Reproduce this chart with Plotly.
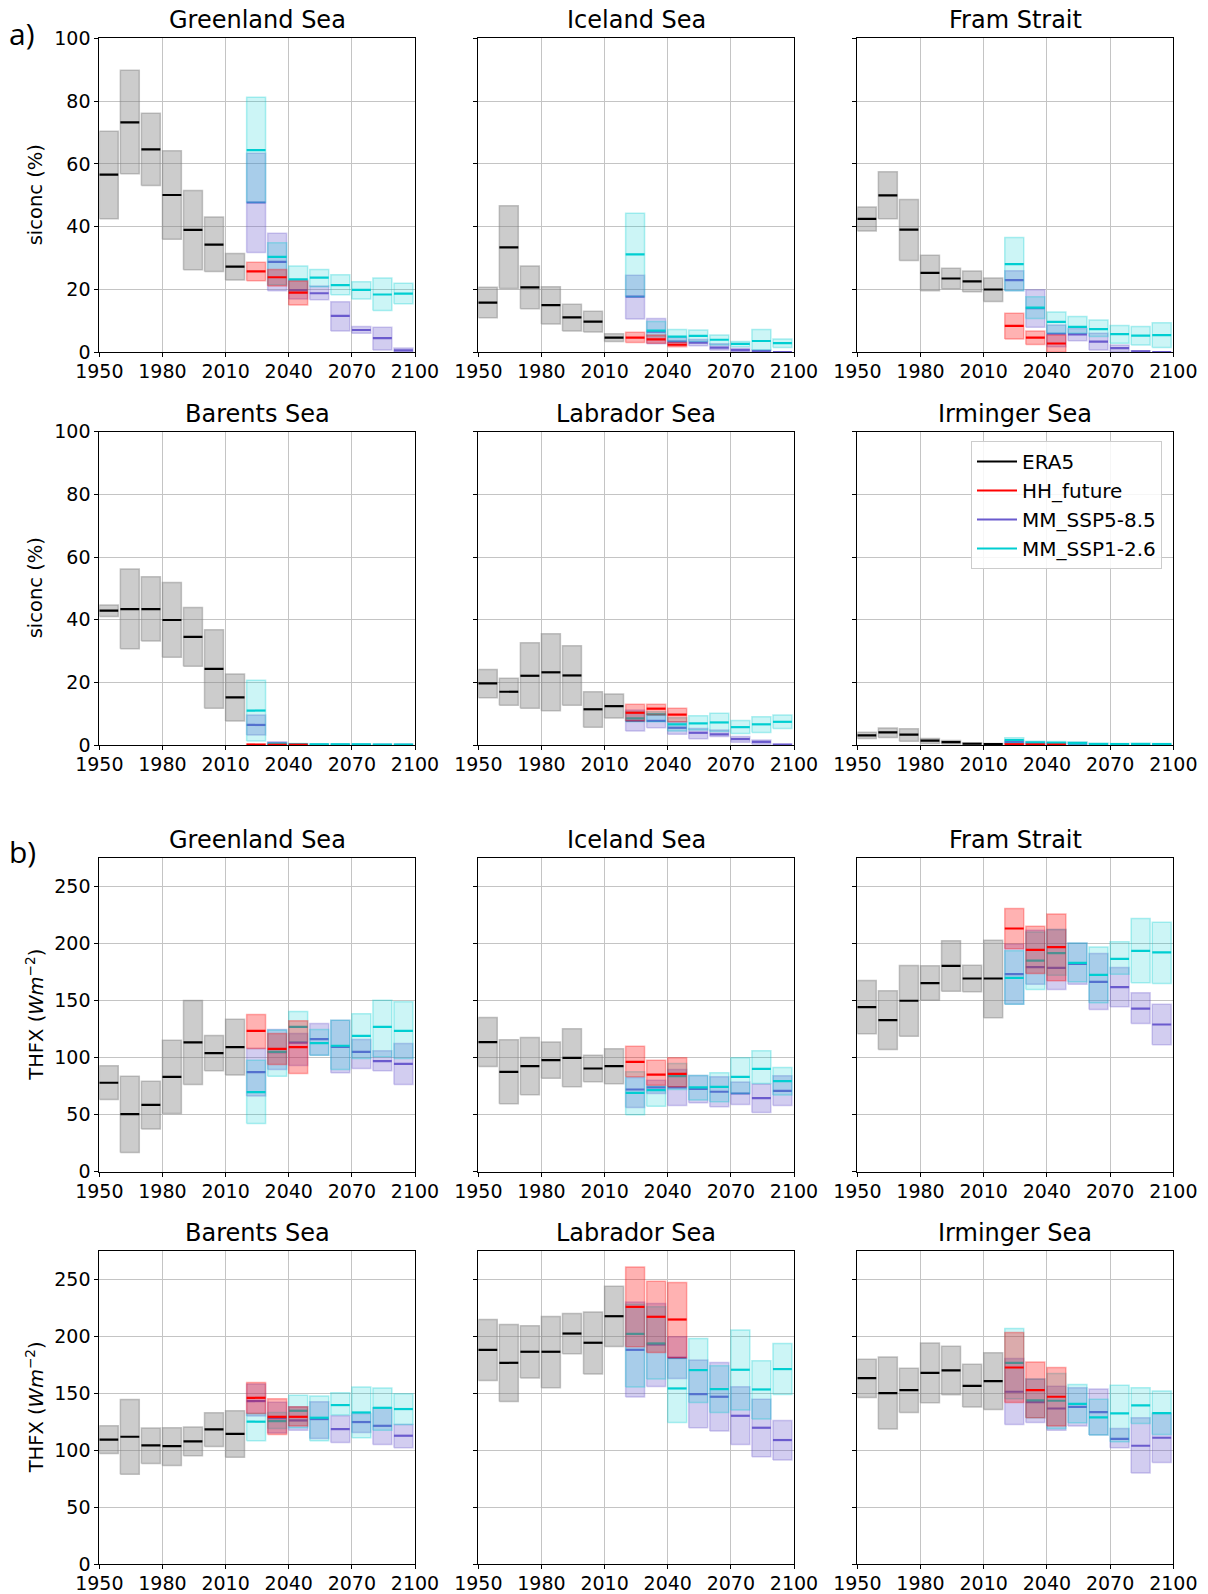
import plotly.graph_objects as go

# ---------------- decades (box start years) ----------------
ERA5_DEC = [1950, 1960, 1970, 1980, 1990, 2000, 2010]
HH_DEC = [2020, 2030, 2040]
MM_DEC = [2020, 2030, 2040, 2050, 2060, 2070, 2080, 2090]
BOX_LEN = 9

REGIONS = ["Greenland Sea", "Iceland Sea", "Fram Strait",
           "Barents Sea", "Labrador Sea", "Irminger Sea"]
X_TICKS = [1950, 1980, 2010, 2040, 2070, 2100]
SIC_TICKS = [0, 20, 40, 60, 80, 100]
THFX_TICKS = [0, 50, 100, 150, 200, 250]

# ---------------- sea-ice concentration (%) : (low, median, high) ----------------
GRE_SIC_ERA5 = ([42.5, 56.9, 53.1, 36.0, 26.3, 25.7, 23.0],
                [56.6, 73.2, 64.6, 50.1, 39.0, 34.3, 27.3],
                [70.4, 89.8, 76.1, 64.2, 51.5, 43.1, 31.5])
GRE_SIC_HH = ([22.8, 21.1, 15.1], [25.8, 23.9, 19.0], [28.7, 26.4, 22.7])
GRE_SIC_585 = ([31.8, 19.6, 17.0, 16.7, 6.8, 6.1, 0.7, 0.0],
               [47.7, 28.8, 19.8, 18.8, 11.6, 7.1, 4.5, 0.6],
               [63.4, 37.9, 23.0, 21.1, 16.1, 8.2, 8.0, 1.4])
GRE_SIC_126 = ([47.7, 21.5, 19.0, 20.9, 18.3, 17.0, 13.3, 15.5],
               [64.4, 30.4, 23.2, 23.8, 21.4, 19.9, 18.4, 18.7],
               [81.2, 34.9, 27.5, 26.4, 24.7, 22.5, 23.7, 22.0])

ICE_SIC_ERA5 = ([11.0, 20.3, 13.9, 9.0, 6.8, 6.5, 3.4],
                [15.8, 33.4, 20.7, 15.0, 11.1, 9.8, 4.7],
                [20.7, 46.7, 27.5, 20.9, 15.3, 13.1, 5.9])
ICE_SIC_HH = ([3.1, 2.9, 1.8], [4.7, 4.1, 2.4], [6.4, 5.5, 3.1])
ICE_SIC_585 = ([10.6, 2.7, 2.3, 2.1, 0.7, 0.2, 0.0, 0.0],
               [17.7, 6.6, 3.4, 3.1, 1.5, 0.7, 0.4, 0.1],
               [24.5, 10.8, 4.8, 4.1, 2.7, 1.3, 0.7, 0.2])
ICE_SIC_126 = ([17.7, 5.0, 3.4, 3.4, 2.3, 1.8, 0.7, 1.5],
               [31.2, 6.9, 5.0, 5.2, 4.0, 2.7, 3.6, 2.9],
               [44.3, 9.8, 7.3, 7.1, 5.5, 3.4, 7.3, 4.2])

FRA_SIC_ERA5 = ([38.6, 42.5, 29.2, 19.6, 20.2, 19.3, 16.2],
                [42.5, 50.0, 39.1, 25.3, 23.5, 22.6, 20.0],
                [46.3, 57.5, 48.7, 30.9, 26.8, 25.9, 23.7])
FRA_SIC_HH = ([4.2, 2.5, 0.0], [8.4, 4.7, 2.8], [12.4, 6.8, 5.5])
FRA_SIC_585 = ([19.6, 8.0, 1.8, 3.7, 0.7, 0.2, 0.0, 0.0],
               [23.0, 14.1, 5.9, 5.7, 3.4, 1.3, 0.3, 0.1],
               [26.0, 19.9, 8.7, 7.6, 6.1, 2.3, 0.5, 0.2])
FRA_SIC_126 = ([19.6, 10.8, 6.1, 6.1, 5.0, 2.9, 2.3, 1.5],
               [28.1, 14.2, 9.7, 8.1, 7.4, 5.8, 5.3, 5.5],
               [36.6, 17.7, 12.8, 11.4, 10.3, 8.5, 8.2, 9.4])

BAR_SIC_ERA5 = ([41.0, 30.7, 33.2, 28.0, 25.1, 11.7, 7.7],
                [42.9, 43.4, 43.4, 39.9, 34.5, 24.3, 15.2],
                [44.7, 56.2, 53.7, 51.9, 43.9, 36.8, 22.7])
BAR_SIC_HH = ([0.0, 0.0, 0.0], [0.1, 0.1, 0.1], [0.3, 0.2, 0.1])
BAR_SIC_585 = ([3.2, 0.0, 0.0, 0.0, 0.0, 0.0, 0.0, 0.0],
               [6.4, 0.5, 0.1, 0.05, 0.05, 0.05, 0.05, 0.05],
               [9.6, 1.0, 0.3, 0.1, 0.1, 0.1, 0.1, 0.1])
BAR_SIC_126 = ([1.3, 0.0, 0.0, 0.0, 0.0, 0.0, 0.0, 0.0],
               [11.0, 0.3, 0.2, 0.2, 0.2, 0.2, 0.1, 0.1],
               [20.7, 0.7, 0.5, 0.4, 0.4, 0.3, 0.3, 0.3])

LAB_SIC_ERA5 = ([15.1, 12.7, 11.7, 10.9, 12.7, 5.7, 8.6],
                [19.7, 17.0, 22.1, 23.2, 22.2, 11.4, 12.4],
                [24.1, 21.3, 32.6, 35.5, 31.7, 17.0, 16.3])
LAB_SIC_HH = ([7.7, 9.6, 7.4], [10.3, 11.6, 9.7], [13.0, 13.0, 11.7])
LAB_SIC_585 = ([4.5, 5.5, 3.4, 2.0, 2.7, 0.9, 0.2, 0.0],
               [7.7, 7.7, 5.5, 3.9, 3.4, 1.9, 1.0, 0.1],
               [11.2, 9.6, 7.4, 5.3, 4.8, 2.7, 1.6, 0.3])
LAB_SIC_126 = ([7.4, 7.4, 4.5, 4.8, 4.3, 3.7, 4.0, 5.3],
               [8.5, 9.8, 6.6, 6.9, 7.2, 5.7, 6.6, 7.4],
               [10.6, 10.6, 8.7, 9.3, 10.1, 7.8, 9.0, 9.6])

IRM_SIC_ERA5 = ([2.1, 2.4, 1.2, 0.5, 0.3, 0.1, 0.1],
                [3.1, 4.0, 3.3, 1.4, 0.9, 0.4, 0.3],
                [4.1, 5.4, 5.2, 2.1, 1.4, 0.7, 0.5])
IRM_SIC_HH = ([0.0, 0.0, 0.0], [0.2, 0.1, 0.1], [0.4, 0.3, 0.2])
IRM_SIC_585 = ([0.3, 0.2, 0.1, 0.1, 0.0, 0.0, 0.0, 0.0],
               [0.9, 0.5, 0.4, 0.4, 0.2, 0.1, 0.1, 0.1],
               [1.4, 1.0, 0.8, 0.8, 0.4, 0.2, 0.2, 0.2])
IRM_SIC_126 = ([0.7, 0.3, 0.3, 0.2, 0.1, 0.1, 0.1, 0.1],
               [1.6, 0.8, 0.7, 0.6, 0.3, 0.3, 0.3, 0.3],
               [2.3, 1.2, 1.1, 1.0, 0.6, 0.5, 0.6, 0.5])

# ---------------- turbulent heat flux (W m-2) : (low, median, high) ----------------
GRE_THF_ERA5 = ([63.3, 16.9, 37.3, 51.0, 76.4, 88.4, 84.6],
                [77.9, 50.5, 58.6, 83.1, 113.2, 103.9, 109.1],
                [92.8, 83.7, 79.3, 115.2, 149.9, 119.3, 133.6])
GRE_THF_HH = ([107.9, 93.9, 86.1], [123.4, 107.6, 109.1], [137.7, 121.1, 132.1])
GRE_THF_585 = ([66.2, 89.6, 93.0, 102.0, 86.6, 90.4, 88.4, 76.4],
               [87.2, 104.7, 113.0, 116.1, 109.4, 105.0, 96.8, 94.5],
               [107.9, 124.6, 121.0, 129.8, 132.7, 115.8, 105.9, 112.3])
GRE_THF_126 = ([42.3, 83.7, 113.8, 102.0, 89.6, 99.2, 100.6, 99.2],
               [69.7, 105.0, 126.9, 112.6, 110.3, 119.0, 126.9, 123.4],
               [97.7, 124.0, 140.3, 124.6, 132.7, 138.3, 150.2, 148.8])

ICE_THF_ERA5 = ([92.2, 59.5, 67.3, 81.9, 74.3, 78.7, 77.0],
                [113.4, 87.5, 92.4, 97.7, 99.7, 90.4, 92.4],
                [135.0, 115.5, 117.5, 113.7, 125.1, 102.0, 107.6])
ICE_THF_HH = ([83.1, 75.8, 74.3], [96.2, 85.1, 85.7], [109.9, 97.7, 99.7])
ICE_THF_585 = ([56.3, 68.5, 58.0, 60.4, 56.9, 58.9, 51.9, 58.0],
               [72.0, 73.8, 73.8, 72.6, 70.0, 68.5, 64.4, 70.8],
               [82.5, 80.2, 89.5, 84.3, 83.1, 78.5, 76.7, 84.0])
ICE_THF_126 = ([49.9, 57.4, 72.0, 62.7, 61.2, 68.5, 77.3, 67.1],
               [69.1, 71.4, 83.7, 73.8, 74.3, 83.1, 90.1, 79.3],
               [87.5, 74.9, 94.8, 84.3, 86.6, 99.7, 105.9, 91.3])

FRA_THF_ERA5 = ([120.8, 107.1, 118.7, 150.2, 158.1, 157.5, 134.8],
                [144.1, 132.7, 149.7, 165.1, 180.3, 169.2, 169.2],
                [167.4, 158.4, 180.6, 180.3, 202.2, 180.9, 202.7])
FRA_THF_HH = ([195.2, 173.6, 167.2], [213.0, 194.3, 196.6], [230.5, 215.0, 225.8])
FRA_THF_585 = ([146.7, 164.2, 159.6, 164.2, 142.1, 144.4, 129.8, 111.1],
               [173.0, 179.1, 178.5, 182.0, 166.3, 161.6, 142.9, 128.9],
               [199.2, 211.5, 212.1, 200.4, 191.1, 178.8, 156.7, 146.7])
FRA_THF_126 = ([146.7, 159.6, 172.1, 166.3, 147.9, 173.0, 165.4, 164.8],
               [169.8, 184.9, 191.4, 182.9, 172.4, 186.4, 193.4, 192.0],
               [193.4, 210.0, 212.1, 200.4, 196.9, 201.3, 221.7, 218.5])

BAR_THF_ERA5 = ([97.1, 78.7, 88.3, 86.5, 95.0, 103.2, 93.6],
                [109.1, 111.7, 104.1, 103.5, 107.6, 118.1, 114.3],
                [121.3, 144.4, 119.3, 119.6, 120.2, 132.7, 134.5])
BAR_THF_HH = ([132.2, 113.7, 121.1], [145.9, 129.2, 129.2], [159.4, 145.0, 138.0])
BAR_THF_585 = ([130.0, 115.0, 117.5, 110.2, 106.7, 115.5, 105.0, 102.0],
               [143.0, 128.0, 126.0, 127.2, 118.4, 124.6, 121.3, 112.6],
               [158.0, 142.0, 138.0, 142.4, 130.1, 132.2, 137.1, 122.5])
BAR_THF_126 = ([108.2, 119.0, 119.6, 108.2, 130.7, 110.8, 117.5, 122.5],
               [124.9, 125.4, 134.5, 128.4, 139.5, 133.0, 137.1, 136.0],
               [132.2, 133.0, 148.2, 147.4, 150.3, 155.3, 154.4, 149.4])

LAB_THF_ERA5 = ([161.1, 142.7, 163.2, 154.7, 184.5, 166.7, 190.9],
                [188.0, 176.6, 186.3, 186.3, 202.3, 194.2, 217.5],
                [214.6, 210.2, 209.1, 217.3, 219.9, 221.3, 243.9])
LAB_THF_HH = ([190.6, 185.7, 181.0], [225.7, 217.0, 214.6], [260.8, 248.2, 247.1])
LAB_THF_585 = ([146.5, 155.8, 162.9, 119.6, 116.7, 105.0, 94.2, 91.2],
               [188.0, 192.7, 181.0, 149.1, 146.8, 130.1, 119.6, 108.8],
               [230.0, 228.7, 199.4, 179.0, 176.9, 155.6, 144.7, 126.0])
LAB_THF_126 = ([155.3, 162.3, 124.3, 141.8, 133.0, 135.1, 127.2, 148.8],
               [202.0, 193.6, 154.1, 170.2, 153.5, 170.5, 153.2, 171.1],
               [228.0, 225.7, 180.4, 198.0, 174.0, 205.3, 178.4, 193.6])

IRM_THF_ERA5 = ([146.2, 118.4, 133.0, 141.5, 148.5, 137.7, 135.7],
                [163.2, 150.0, 152.6, 167.8, 169.9, 156.4, 160.5],
                [179.8, 181.6, 171.9, 193.9, 191.2, 175.4, 185.4])
IRM_THF_HH = ([141.8, 128.4, 121.1], [172.5, 152.6, 146.8], [203.2, 177.2, 172.5])
IRM_THF_585 = ([122.5, 124.3, 117.5, 121.1, 113.2, 102.0, 79.8, 89.2],
               [151.2, 142.0, 136.5, 138.0, 133.3, 109.9, 103.8, 110.8],
               [180.4, 162.3, 156.1, 154.7, 153.5, 119.0, 128.4, 132.2])
IRM_THF_126 = ([145.0, 128.4, 119.0, 124.0, 113.2, 107.3, 123.4, 113.7],
               [176.6, 143.6, 143.3, 140.6, 128.7, 132.2, 139.2, 132.5],
               [206.7, 162.3, 167.3, 157.6, 144.7, 157.0, 154.7, 151.8])

# panel order: row by row (siconc rows 1-2, THFX rows 3-4)
PANELS = [
    (GRE_SIC_ERA5, GRE_SIC_HH, GRE_SIC_585, GRE_SIC_126),
    (ICE_SIC_ERA5, ICE_SIC_HH, ICE_SIC_585, ICE_SIC_126),
    (FRA_SIC_ERA5, FRA_SIC_HH, FRA_SIC_585, FRA_SIC_126),
    (BAR_SIC_ERA5, BAR_SIC_HH, BAR_SIC_585, BAR_SIC_126),
    (LAB_SIC_ERA5, LAB_SIC_HH, LAB_SIC_585, LAB_SIC_126),
    (IRM_SIC_ERA5, IRM_SIC_HH, IRM_SIC_585, IRM_SIC_126),
    (GRE_THF_ERA5, GRE_THF_HH, GRE_THF_585, GRE_THF_126),
    (ICE_THF_ERA5, ICE_THF_HH, ICE_THF_585, ICE_THF_126),
    (FRA_THF_ERA5, FRA_THF_HH, FRA_THF_585, FRA_THF_126),
    (BAR_THF_ERA5, BAR_THF_HH, BAR_THF_585, BAR_THF_126),
    (LAB_THF_ERA5, LAB_THF_HH, LAB_THF_585, LAB_THF_126),
    (IRM_THF_ERA5, IRM_THF_HH, IRM_THF_585, IRM_THF_126),
]

# ---------------- styling ----------------
W, H = 1208, 1594
FONT = "DejaVu Sans"
COL_PX = [(99.3, 415.0), (478.3, 794.0), (857.3, 1173.3)]
ROW_PX = [(38.3, 352.3), (431.7, 745.0), (857.7, 1171.7), (1250.7, 1564.0)]

# drawing order: ERA5, SSP5-8.5, SSP1-2.6, HH_future
STYLE = {
    "ERA5": dict(fill="rgba(128,128,128,0.4)", edge="rgba(128,128,128,0.45)", line="#000000", rank=1),
    "HH_future": dict(fill="rgba(255,0,0,0.3)", edge="rgba(255,0,0,0.3)", line="#ff0000", rank=2),
    "MM_SSP5-8.5": dict(fill="rgba(106,90,205,0.3)", edge="rgba(106,90,205,0.3)", line="#6a5acd", rank=3),
    "MM_SSP1-2.6": dict(fill="rgba(0,206,209,0.2)", edge="rgba(0,206,209,0.3)", line="#00ced1", rank=4),
}

fig = go.Figure()


def add_series(name, decades, data, xa, ya):
    lo, med, hi = data
    st = STYLE[name]
    bx, by, mx, my = [], [], [], []
    for d, l, m, h in zip(decades, lo, med, hi):
        bx += [d, d + BOX_LEN, d + BOX_LEN, d, d, None]
        by += [l, l, h, h, l, None]
        mx += [d, d + BOX_LEN, None]
        my += [m, m, None]
    fig.add_trace(go.Scatter(x=bx, y=by, mode="lines", fill="toself",
                             fillcolor=st["fill"], line=dict(color=st["edge"], width=1.5),
                             xaxis=xa, yaxis=ya, showlegend=False, hoverinfo="skip"))
    fig.add_trace(go.Scatter(x=mx, y=my, mode="lines",
                             line=dict(color=st["line"], width=2.2),
                             xaxis=xa, yaxis=ya, showlegend=False, hoverinfo="skip"))


layout_axes = {}
annotations = []
for i, (era5, hh, s585, s126) in enumerate(PANELS):
    r, c = divmod(i, 3)
    xa = "x" if i == 0 else f"x{i+1}"
    ya = "y" if i == 0 else f"y{i+1}"
    add_series("ERA5", ERA5_DEC, era5, xa, ya)
    add_series("MM_SSP5-8.5", MM_DEC, s585, xa, ya)
    add_series("MM_SSP1-2.6", MM_DEC, s126, xa, ya)
    add_series("HH_future", HH_DEC, hh, xa, ya)

    x0, x1 = COL_PX[c]
    y0, y1 = ROW_PX[r]
    xdom = [x0 / W, x1 / W]
    ydom = [1 - y1 / H, 1 - y0 / H]
    is_sic = r < 2
    common = dict(showline=True, linecolor="#000000", linewidth=1, mirror=True,
                  ticks="outside", ticklen=4, tickwidth=1, tickcolor="#000000",
                  showgrid=True, gridcolor="#c4c4c4", gridwidth=1, zeroline=False,
                  automargin=False,
                  tickfont=dict(family=FONT, size=19, color="#000000"))
    layout_axes["xaxis" if i == 0 else f"xaxis{i+1}"] = dict(
        domain=xdom, anchor=ya, range=[1950, 2100], tickmode="array",
        tickvals=X_TICKS, ticklabelstandoff=-2, **common)
    layout_axes["yaxis" if i == 0 else f"yaxis{i+1}"] = dict(
        domain=ydom, anchor=xa, range=[0, 100] if is_sic else [0, 275],
        tickmode="array", tickvals=SIC_TICKS if is_sic else THFX_TICKS,
        showticklabels=(c == 0), **common)

    annotations.append(dict(text=REGIONS[i % 6], x=(xdom[0] + xdom[1]) / 2, y=ydom[1],
                            xref="paper", yref="paper", xanchor="center", yanchor="bottom",
                            yshift=2, showarrow=False,
                            font=dict(family=FONT, size=24, color="#000000")))
    if c == 0:
        ytxt = "siconc (%)" if is_sic else "THFX (<i>Wm</i><sup>−2</sup>)"
        annotations.append(dict(text=ytxt, x=35 / W, y=(ydom[0] + ydom[1]) / 2,
                                xref="paper", yref="paper", xanchor="center", yanchor="middle",
                                textangle=-90, showarrow=False,
                                font=dict(family=FONT, size=19.5, color="#000000")))

annotations.append(dict(text="a)", x=7 / W, y=1 - 33 / H, xref="paper", yref="paper",
                        xanchor="left", yanchor="middle", showarrow=False,
                        font=dict(family="Open Sans", size=30, color="#000000")))
annotations.append(dict(text="b)", x=7 / W, y=1 - 851 / H, xref="paper", yref="paper",
                        xanchor="left", yanchor="middle", showarrow=False,
                        font=dict(family="Open Sans", size=30, color="#000000")))

# legend entries
for name in ["ERA5", "HH_future", "MM_SSP5-8.5", "MM_SSP1-2.6"]:
    fig.add_trace(go.Scatter(x=[None], y=[None], mode="lines", name=name,
                             line=dict(color=STYLE[name]["line"], width=2.2),
                             xaxis="x6", yaxis="y6", showlegend=True,
                             legendrank=STYLE[name]["rank"]))

fig.update_layout(
    template="none",
    width=W, height=H, margin=dict(l=0, r=0, t=0, b=0, pad=0, autoexpand=False),
    paper_bgcolor="white", plot_bgcolor="white",
    font=dict(family=FONT, color="#000000"),
    annotations=annotations,
    legend=dict(x=1162 / W, y=1 - 441 / H, xanchor="right", yanchor="top",
                bgcolor="rgba(255,255,255,0.85)", bordercolor="#cccccc", borderwidth=1,
                font=dict(family=FONT, size=20, color="#000000"),
                tracegroupgap=4, itemwidth=40),
    **layout_axes,
)

fig.write_html("out.html")
